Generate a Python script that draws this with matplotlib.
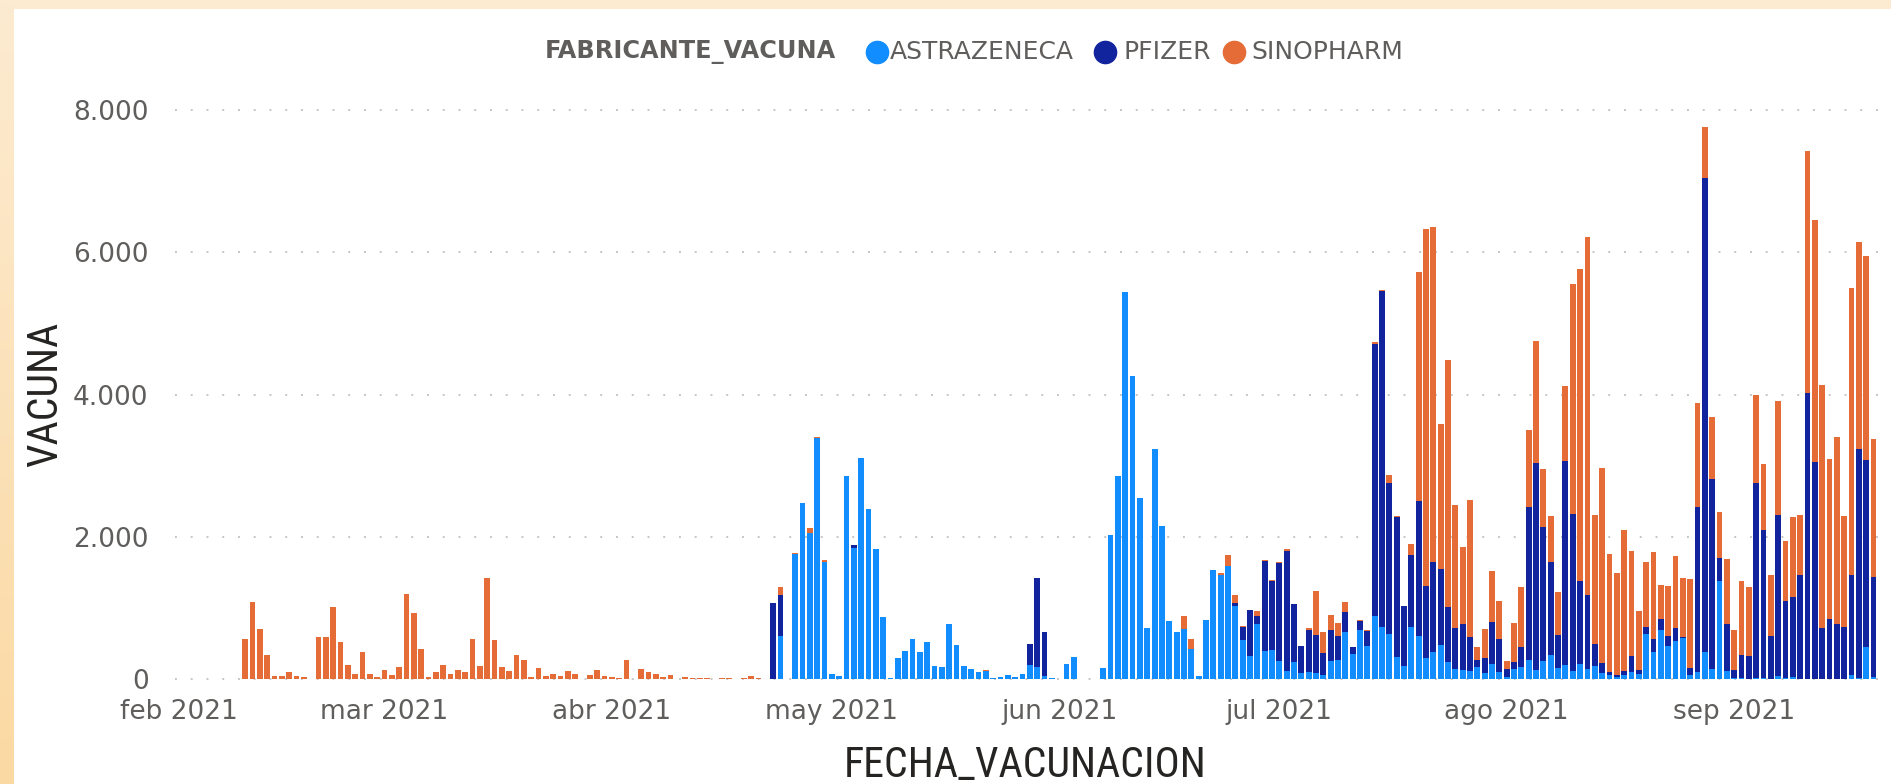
import numpy as np
import matplotlib
matplotlib.use("Agg")
import matplotlib.pyplot as plt
import matplotlib.dates as mdates
from matplotlib import font_manager as fm
from matplotlib.lines import Line2D
from matplotlib.patches import Rectangle
import datetime as dt

# ---------------- data ----------------
start_date = dt.date(2021, 2, 10)

sinopharm = [570, 1087, 711, 344, 42, 42, 99, 42, 33, 0,
             598, 598, 1021, 522, 198, 75, 386, 75, 28, 132,
             56, 179, 1195, 932, 424, 38, 99, 198, 80, 127,
             99, 574, 193, 1426, 560, 174, 113, 348, 268, 33,
             165, 47, 71, 42, 122, 75, 10, 56, 132, 42,
             38, 19, 268, 9, 141, 104, 80, 33, 66, 9,
             38, 19, 14, 14, 5, 24, 14, 5, 14, 50,
             22, 0, 0, 116, 0, 20, 0, 72, 15, 28,
             0, 0, 0, 0, 0, 0, 0, 0, 0, 0,
             0, 0, 0, 0, 0, 0, 0, 0, 0, 0,
             0, 17, 0, 0, 0, 0, 0, 0, 0, 0,
             0, 0, 0, 0, 0, 0, 0, 0, 0, 0,
             0, 0, 0, 0, 0, 0, 0, 0, 177, 144,
             0, 0, 0, 22, 144, 116, 17, 0, 72, 17,
             10, 22, 39, 0, 0, 20, 614, 295, 223, 172,
             144, 0, 22, 17, 28, 11, 111, 11, 0, 161,
             3220, 5013, 4692, 2038, 3464, 1721, 1093, 1937, 189, 406,
             705, 538, 111, 544, 844, 1082, 1716, 811, 639, 606,
             1055, 3232, 4387, 5025, 1810, 2742, 1649, 1427, 1993, 1471,
             827, 921, 1216, 466, 699, 1022, 821, 1250, 1466, 716,
             861, 655, 911, 560, 1038, 966, 1238, 916, 866, 1594,
             850, 1122, 844, 3397, 3392, 3415, 2243, 2626, 1566, 4036,
             2899, 2876, 1937]

astrazeneca = [0] * 72 + [
             0, 616, 0, 1760, 2471, 2060, 3387, 1654,
             78, 44, 2854, 1849, 3104, 2387, 1838, 872, 22, 294,
             394, 572, 383, 522, 189, 172, 772, 483, 183, 150,
             105, 117, 17, 33, 61, 39, 75, 200, 172, 50,
             17, 11, 217, 311, 0, 0, 0, 155, 2032, 2859,
             5435, 4264, 2548, 722, 3231, 2160, 822, 666, 711, 422,
             44, 833, 1543, 1466, 1599, 1033, 555, 322, 777, 400,
             416, 255, 122, 239, 92, 108, 90, 61, 261, 272,
             661, 350, 688, 466, 894, 733, 633, 316, 183, 733,
             605, 300, 383, 489, 239, 144, 139, 117, 178, 89,
             211, 105, 33, 150, 172, 266, 128, 261, 339, 167,
             205, 122, 211, 150, 195, 89, 67, 39, 61, 105,
             78, 633, 378, 688, 466, 544, 577, 56, 105, 389,
             150, 1382, 117, 22, 17, 11, 22, 22, 11, 50,
             22, 28, 11, 11, 11, 11, 11, 11, 11, 56,
             22, 461, 33]

pfizer = [0] * 72 + [
             1077, 567, 0, 0, 0, 0, 0, 0,
             0, 0, 0, 33, 0, 0, 0, 0, 0, 0,
             0, 0, 0, 0, 0, 0, 0, 0, 0, 0,
             0, 0, 0, 0, 0, 0, 0, 300, 1249, 611,
             0, 0, 0, 0, 0, 0, 0, 0, 0, 0,
             0, 0, 0, 0, 0, 0, 0, 0, 0, 0,
             0, 0, 0, 0, 0, 39, 183, 650, 111, 1260,
             966, 1377, 1677, 816, 375, 592, 535, 305, 427, 344,
             283, 105, 128, 217, 3814, 4725, 2121, 1971, 850, 1010,
             1899, 1016, 1271, 1060, 777, 578, 633, 472, 88, 216,
             600, 456, 111, 94, 283, 2155, 2909, 1882, 1315, 460,
             2865, 2204, 1171, 1038, 302, 139, 38, 28, 50, 223,
             61, 100, 194, 167, 145, 172, 23, 99, 2310, 6651,
             2670, 317, 660, 106, 327, 317, 2737, 2082, 594, 2265,
             1077, 1132, 1449, 4009, 3048, 705, 838, 766, 722, 1410,
             3220, 2615, 1411]

month_labels = ["feb 2021", "mar 2021", "abr 2021", "may 2021",
                "jun 2021", "jul 2021", "ago 2021", "sep 2021"]
y_ticks = [0, 2000, 4000, 6000, 8000]
y_tick_labels = ["0", "2.000", "4.000", "6.000", "8.000"]

series_names = ["ASTRAZENECA", "PFIZER", "SINOPHARM"]
colors = ["#118DFF", "#12239E", "#E66C37"]


def pick_title_font():
    tl = fm.fontManager.ttflist
    names = {f.name for f in tl}
    for nm in ["Liberation Sans Narrow", "Roboto Condensed", "Open Sans Condensed",
               "DejaVu Sans Condensed", "Noto Sans Condensed"]:
        if nm in names:
            return dict(family=[nm, "DejaVu Sans"])
    for nm in ["DejaVu Sans", "Noto Sans", "Roboto", "Open Sans"]:
        for f in tl:
            if (f.name == nm and str(f.stretch) in ("condensed", "semi-condensed")
                    and f.style == "normal" and str(f.weight) in ("400", "normal", "regular", "book")):
                return dict(family=[nm, "DejaVu Sans"], stretch=f.stretch)
    return dict(family=["DejaVu Sans"])


# ---------------- figure ----------------
W, H = 1891, 784
fig = plt.figure(figsize=(W / 100, H / 100), dpi=100)
fig.patch.set_facecolor("white")

# peach frame (top strip + left gradient strip)
fig.add_artist(Rectangle((0, 1 - 9 / H), 1, 9 / H, transform=fig.transFigure,
                         facecolor="#FDEBD1", edgecolor="none", zorder=0))
grad_ax = fig.add_axes([0, 0, 14 / W, 1])
top_c = np.array([253, 235, 209]) / 255
bot_c = np.array([251, 217, 163]) / 255
t = np.linspace(0, 1, 256)[:, None]
grad = (top_c[None, :] * (1 - t) + bot_c[None, :] * t)[:, None, :]
grad_ax.imshow(grad, aspect="auto", extent=[0, 1, 0, 1], origin="upper")
grad_ax.axis("off")

n = len(sinopharm)
dates = [start_date + dt.timedelta(days=i) for i in range(n)]
x = mdates.date2num(dates)
a = np.array(astrazeneca, dtype=float)
p = np.array(pfizer, dtype=float)
s = np.array(sinopharm, dtype=float)

# axes placement
per_unit = (0.86008 - 0.13342) / 8000
y_lo, y_hi = -60, 8100
ax = fig.add_axes([175 / W, 0.13342 + y_lo * per_unit, 1705 / W, (y_hi - y_lo) * per_unit])
ax.set_facecolor("none")

bw = 0.78
ax.bar(x, a, width=bw, color=colors[0], linewidth=0, zorder=3)
ax.bar(x, p, width=bw, bottom=a, color=colors[1], linewidth=0, zorder=3)
ax.bar(x, s, width=bw, bottom=a + p, color=colors[2], linewidth=0, zorder=3)

feb1 = mdates.date2num(dt.date(2021, 2, 1))
ax.set_xlim(feb1 - 0.57, feb1 + 231.9)
ax.set_ylim(y_lo, y_hi)

month_ticks = [mdates.date2num(dt.date(2021, m, 1)) for m in range(2, 10)]
ax.set_xticks(month_ticks)
ax.set_xticklabels(month_labels)
ax.set_yticks(y_ticks)
ax.set_yticklabels(y_tick_labels)

tick_font = ["DejaVu Sans"]
for lab in ax.get_xticklabels() + ax.get_yticklabels():
    lab.set_family(tick_font)
    lab.set_fontsize(19)
    lab.set_color("#605E5C")
ax.tick_params(axis="x", length=0, pad=11)
ax.tick_params(axis="y", length=0, pad=19)

for sp in ax.spines.values():
    sp.set_visible(False)

for yv in y_ticks:
    ax.axhline(yv, color="#C8C6C4", linewidth=1.4, linestyle=(0, (1, 7.1)), zorder=1)

# axis titles (condensed font, sized to the reference width)
tf = pick_title_font()
t_x = fig.text(1025 / W, 1 - 766 / H, "FECHA_VACUNACION", ha="center", va="center",
               fontsize=28, color="#252423", **tf)
t_y = fig.text(46 / W, 1 - 394 / H, "VACUNA", rotation=90, ha="center", va="center",
               fontsize=28, color="#252423", **tf)
renderer = fig.canvas.get_renderer()
wpx = t_x.get_window_extent(renderer).width
fs = 28 * 362.0 / wpx
fs = min(max(fs, 22), 32)
t_x.set_fontsize(fs)
t_y.set_fontsize(fs)

# legend
ly = 1 - 52 / H
fig.text(545 / W, ly, "FABRICANTE_VACUNA", ha="left", va="center", fontsize=17.3,
         fontweight="bold", color="#605E5C", family=tick_font)
marker_x = [877, 1105, 1234]
text_x = [890, 1123, 1251]
for name, col, mx, tx in zip(series_names, colors, marker_x, text_x):
    fig.add_artist(Line2D([mx / W], [ly], transform=fig.transFigure, marker="o",
                          markersize=16, color=col, linestyle="none"))
    fig.text(tx / W, ly, name, ha="left", va="center", fontsize=18,
             color="#605E5C", family=tick_font)

fig.savefig("out.png", dpi=100, facecolor=fig.get_facecolor())
